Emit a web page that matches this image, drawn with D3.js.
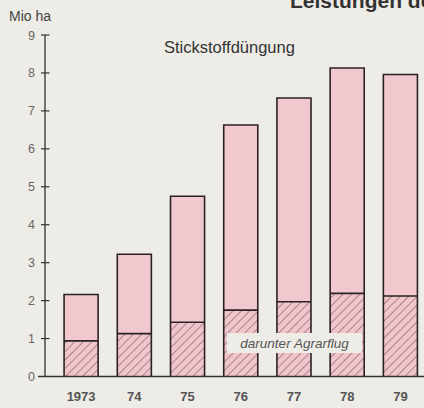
<!DOCTYPE html>
<html>
<head>
<meta charset="utf-8">
<script src="https://cdn.jsdelivr.net/npm/d3@7"></script>
<style>
  body { margin: 0; background: #eeece6; }
  svg { display: block; font-family: "Liberation Sans", Arial, sans-serif; }
</style>
</head>
<body>
<svg id="chart" width="424" height="408"></svg>
<script>
/** data **/
var years = ["1973", "74", "75", "76", "77", "78", "79"];
var total = [2.16, 3.22, 4.75, 6.63, 7.34, 8.13, 7.96];   // Stickstoffdüngung, Mio ha
var agrarflug = [0.94, 1.13, 1.43, 1.75, 1.97, 2.19, 2.12]; // darunter Agrarflug
var yTicks = [0, 1, 2, 3, 4, 5, 6, 7, 8, 9];

var svg = d3.select("#chart");

/** scales **/
var x = d3.scaleBand()
    .domain(years)
    .range([54.5, 427])
    .paddingInner(0.36)
    .paddingOuter(0.18);

var y = d3.scaleLinear()
    .domain([0, 9])
    .range([376.5, 35]);

/** hatching pattern **/
var defs = svg.append("defs");
var pat = defs.append("pattern")
    .attr("id", "hatch")
    .attr("patternUnits", "userSpaceOnUse")
    .attr("width", 6)
    .attr("height", 6)
    .attr("patternTransform", "rotate(45)");
pat.append("rect").attr("width", 6).attr("height", 6).attr("fill", "#efc6cc");
pat.append("line")
    .attr("x1", 0).attr("y1", 0).attr("x2", 0).attr("y2", 6)
    .attr("stroke", "#7a4a50").attr("stroke-width", 1.1);

/** title (cut off at the right like the original) **/
svg.append("text")
    .attr("x", 290).attr("y", 8)
    .text("Leistungen der Agrarflieger")
    .style("font-size", "21px")
    .style("font-weight", 700)
    .style("fill", "#333");

svg.append("text")
    .attr("x", 9).attr("y", 21)
    .text("Mio ha")
    .style("font-size", "14px")
    .style("fill", "#444");

svg.append("text")
    .attr("x", 164).attr("y", 53)
    .text("Stickstoffdüngung")
    .style("font-size", "16.5px")
    .style("fill", "#333");

/** bars **/
var bars = svg.selectAll(".bar")
    .data(years)
    .enter()
    .append("g")
    .attr("class", "bar");

bars.append("rect")
    .attr("x", function (d) { return x(d); })
    .attr("y", function (d, i) { return y(total[i]); })
    .attr("width", x.bandwidth())
    .attr("height", function (d, i) { return y(0) - y(total[i]); })
    .attr("fill", "#f0c8ce");

bars.append("rect")
    .attr("x", function (d) { return x(d); })
    .attr("y", function (d, i) { return y(agrarflug[i]); })
    .attr("width", x.bandwidth())
    .attr("height", function (d, i) { return y(0) - y(agrarflug[i]); })
    .attr("fill", "url(#hatch)");

/** label box over the hatched parts **/
svg.append("rect")
    .attr("x", 227).attr("y", 333)
    .attr("width", 135).attr("height", 20)
    .attr("fill", "#eeece6");

// outlines drawn after the label box so the outer borders stay visible
bars.append("line")
    .attr("x1", function (d) { return x(d); })
    .attr("x2", function (d) { return x(d) + x.bandwidth(); })
    .attr("y1", function (d, i) { return y(agrarflug[i]); })
    .attr("y2", function (d, i) { return y(agrarflug[i]); })
    .attr("stroke", "#2b2224").attr("stroke-width", 1.6);

bars.append("path")
    .attr("d", function (d, i) {
        var x0 = x(d), x1 = x(d) + x.bandwidth(), yt = y(total[i]), yb = y(0);
        if (d === "76") return "M" + x0 + "," + yb + "V" + yt + "H" + x1 + "V333M" + x1 + ",353V" + yb;
        if (d === "77") return "M" + x0 + "," + yb + "V353M" + x0 + ",333V" + yt + "H" + x1 + "V333M" + x1 + ",353V" + yb;
        if (d === "78") return "M" + x0 + "," + yb + "V353M" + x0 + ",333V" + yt + "H" + x1 + "V" + yb;
        return "M" + x0 + "," + yb + "V" + yt + "H" + x1 + "V" + yb;
    })
    .attr("fill", "none")
    .attr("stroke", "#2b2224").attr("stroke-width", 1.6);

svg.append("text")
    .attr("x", 294.5).attr("y", 348)
    .attr("text-anchor", "middle")
    .text("darunter Agrarflug")
    .style("font-size", "13.5px")
    .style("font-style", "italic")
    .style("fill", "#555");

/** y axis **/
svg.append("line")
    .attr("x1", 45).attr("x2", 45)
    .attr("y1", y(9)).attr("y2", y(0))
    .attr("stroke", "#333").attr("stroke-width", 1.3);

svg.selectAll(".ytick")
    .data(yTicks.slice(1))
    .enter()
    .append("line")
    .attr("class", "ytick")
    .attr("x1", 41).attr("x2", 49.5)
    .attr("y1", function (d) { return y(d); })
    .attr("y2", function (d) { return y(d); })
    .attr("stroke", "#333").attr("stroke-width", 1.2);

svg.selectAll(".ylabel")
    .data(yTicks)
    .enter()
    .append("text")
    .attr("class", "ylabel")
    .attr("x", 35)
    .attr("y", function (d) { return y(d) + 4.5; })
    .attr("text-anchor", "end")
    .text(function (d) { return d; })
    .style("font-size", "12.5px")
    .style("fill", "#666");

/** baseline **/
svg.append("line")
    .attr("x1", 38).attr("x2", 424)
    .attr("y1", y(0)).attr("y2", y(0))
    .attr("stroke", "#333").attr("stroke-width", 1.6);

/** x labels **/
svg.selectAll(".xlabel")
    .data(years)
    .enter()
    .append("text")
    .attr("class", "xlabel")
    .attr("x", function (d) { return x(d) + x.bandwidth() / 2; })
    .attr("y", 401)
    .attr("text-anchor", "middle")
    .text(function (d) { return d; })
    .style("font-size", "13px")
    .style("font-weight", 700)
    .style("fill", "#555");
</script>
</body>
</html>
